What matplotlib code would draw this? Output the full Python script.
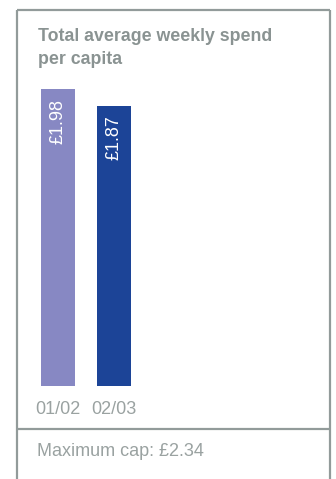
import matplotlib.pyplot as plt
from matplotlib.lines import Line2D

# spend per capita, pounds per week
years = ['01/02', '02/03']
spend = [1.98, 1.87]
value_labels = ['£1.98', '£1.87']
bar_colours = ['#8788c3', '#1c4497']
title = 'Total average weekly spend\nper capita'
footnote = 'Maximum cap: £2.34'

W, H = 336, 479
grey = '#929b9a'
text_grey = '#9aa2a1'

plt.rcParams['font.family'] = ['Liberation Sans', 'DejaVu Sans']

fig = plt.figure(figsize=(W / 100, H / 100), dpi=100)

def px(x0, y0, x1, y1):
    # pixel box (top-left origin) -> figure fraction rect
    return [x0 / W, 1 - y1 / H, (x1 - x0) / W, (y1 - y0) / H]

# frame around the panel
frame = dict(color=grey, lw=1.6, transform=fig.transFigure, solid_capstyle='butt')
fig.add_artist(Line2D([17 / W, 17 / W], [1 - 10 / H, 0], **frame))
fig.add_artist(Line2D([330 / W, 330 / W], [1 - 10 / H, 0], **frame))
fig.add_artist(Line2D([17 / W, 330 / W], [1 - 10 / H, 1 - 10 / H], **frame))
fig.add_artist(Line2D([17 / W, 330 / W], [1 - 429 / H, 1 - 429 / H], **frame))

fig.text(38 / W, 1 - 28 / H, title, ha='left', va='top', fontsize=12.8,
         fontweight='bold', color='#8a9392', linespacing=1.5)
fig.text(37 / W, 1 - 452 / H, footnote, ha='left', va='center',
         fontsize=13, color=text_grey)

# bar area: baseline at y=386 px, 150 px per pound
ax = fig.add_axes(px(17, 80, 331, 386))
pos = range(len(years))
ax.bar(pos, spend, width=34 / 56, color=bar_colours)
ax.set_ylim(0, 306 / 150)
ax.set_xlim(-41 / 56, 273 / 56)

for i, v in enumerate(spend):
    ax.annotate(value_labels[i], (i, v), xytext=(0, -7), textcoords='offset points',
                rotation=90, ha='center', va='top', color='white', fontsize=13)

ax.set_xticks(list(pos))
ax.set_xticklabels(years, fontsize=13, color=text_grey)
ax.tick_params(axis='x', length=0, pad=11)
ax.set_yticks([])
for s in ax.spines.values():
    s.set_visible(False)

fig.savefig('out.png', dpi=100)
